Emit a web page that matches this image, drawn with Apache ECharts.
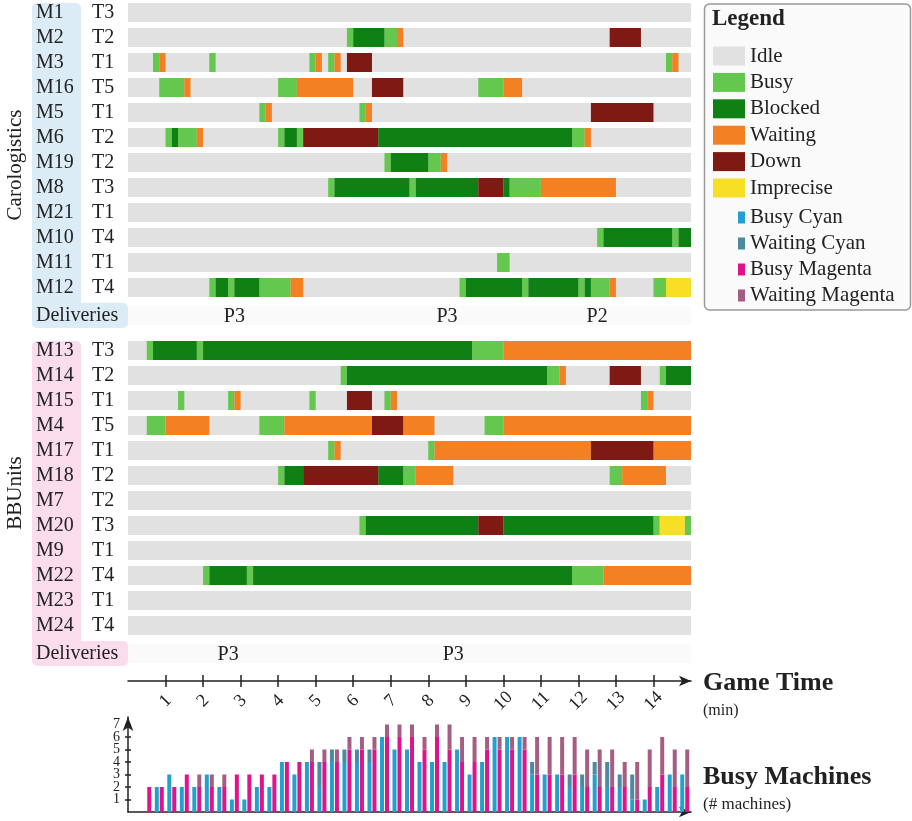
<!DOCTYPE html>
<html>
<head>
<meta charset="utf-8">
<title>Machine states</title>
<script src="https://cdn.jsdelivr.net/npm/echarts@6/dist/echarts.min.js"></script>
<style>
html, body { margin: 0; padding: 0; background: #fff; }
#chart { width: 912px; height: 821px; }
</style>
</head>
<body>
<div id="chart"></div>
<script>
// all times in seconds of game time
var GAME_END = 900;
var timeTicks = [1, 2, 3, 4, 5, 6, 7, 8, 9, 10, 11, 12, 13, 14]; // minutes

var caroMachines = ['M1', 'M2', 'M3', 'M16', 'M5', 'M6', 'M19', 'M8', 'M21', 'M10', 'M11', 'M12'];
var caroTypes = ['T3', 'T2', 'T1', 'T5', 'T1', 'T2', 'T2', 'T3', 'T1', 'T4', 'T1', 'T4'];
var caroSegments = [
    [],
    [[350, 360, 'Busy'], [360, 410, 'Blocked'], [410, 430, 'Busy'], [430, 440, 'Waiting'], [770, 820, 'Down']],
    [[40, 50, 'Busy'], [50, 60, 'Waiting'], [130, 140, 'Busy'], [290, 300, 'Busy'], [300, 310, 'Waiting'], [320, 330, 'Busy'], [330, 340, 'Waiting'], [350, 390, 'Down'], [860, 870, 'Busy'], [870, 880, 'Waiting']],
    [[50, 90, 'Busy'], [90, 100, 'Waiting'], [240, 270, 'Busy'], [270, 360, 'Waiting'], [390, 440, 'Down'], [560, 600, 'Busy'], [600, 630, 'Waiting']],
    [[210, 220, 'Busy'], [220, 230, 'Waiting'], [370, 380, 'Busy'], [380, 390, 'Waiting'], [740, 840, 'Down']],
    [[60, 70, 'Busy'], [70, 80, 'Blocked'], [80, 110, 'Busy'], [110, 120, 'Waiting'], [240, 250, 'Busy'], [250, 270, 'Blocked'], [270, 280, 'Busy'], [280, 400, 'Down'], [400, 710, 'Blocked'], [710, 730, 'Busy'], [730, 740, 'Waiting']],
    [[410, 420, 'Busy'], [420, 480, 'Blocked'], [480, 500, 'Busy'], [500, 510, 'Waiting']],
    [[320, 330, 'Busy'], [330, 450, 'Blocked'], [450, 460, 'Busy'], [460, 560, 'Blocked'], [560, 600, 'Down'], [600, 610, 'Blocked'], [610, 660, 'Busy'], [660, 780, 'Waiting']],
    [],
    [[750, 760, 'Busy'], [760, 870, 'Blocked'], [870, 880, 'Busy'], [880, 900, 'Blocked']],
    [[590, 610, 'Busy']],
    [[130, 140, 'Busy'], [140, 160, 'Blocked'], [160, 170, 'Busy'], [170, 210, 'Blocked'], [210, 260, 'Busy'], [260, 280, 'Waiting'], [530, 540, 'Busy'], [540, 630, 'Blocked'], [630, 640, 'Busy'], [640, 720, 'Blocked'], [720, 730, 'Busy'], [730, 740, 'Blocked'], [740, 770, 'Busy'], [770, 780, 'Waiting'], [840, 860, 'Busy'], [860, 900, 'Imprecise']]
];
var caroDeliveries = [[170, 'P3'], [510, 'P3'], [750, 'P2']];

var bbuMachines = ['M13', 'M14', 'M15', 'M4', 'M17', 'M18', 'M7', 'M20', 'M9', 'M22', 'M23', 'M24'];
var bbuTypes = ['T3', 'T2', 'T1', 'T5', 'T1', 'T2', 'T2', 'T3', 'T1', 'T4', 'T1', 'T4'];
var bbuSegments = [
    [[30, 40, 'Busy'], [40, 110, 'Blocked'], [110, 120, 'Busy'], [120, 550, 'Blocked'], [550, 600, 'Busy'], [600, 900, 'Waiting']],
    [[340, 350, 'Busy'], [350, 670, 'Blocked'], [670, 690, 'Busy'], [690, 700, 'Waiting'], [770, 820, 'Down'], [850, 860, 'Busy'], [860, 900, 'Blocked']],
    [[80, 90, 'Busy'], [160, 170, 'Busy'], [170, 180, 'Waiting'], [290, 300, 'Busy'], [350, 390, 'Down'], [410, 420, 'Busy'], [420, 430, 'Waiting'], [820, 830, 'Busy'], [830, 840, 'Waiting']],
    [[30, 60, 'Busy'], [60, 130, 'Waiting'], [210, 250, 'Busy'], [250, 390, 'Waiting'], [390, 440, 'Down'], [440, 490, 'Waiting'], [570, 600, 'Busy'], [600, 900, 'Waiting']],
    [[320, 330, 'Busy'], [330, 340, 'Waiting'], [480, 490, 'Busy'], [490, 740, 'Waiting'], [740, 840, 'Down'], [840, 900, 'Waiting']],
    [[240, 250, 'Busy'], [250, 280, 'Blocked'], [280, 400, 'Down'], [400, 440, 'Blocked'], [440, 460, 'Busy'], [460, 520, 'Waiting'], [770, 790, 'Busy'], [790, 860, 'Waiting']],
    [],
    [[370, 380, 'Busy'], [380, 560, 'Blocked'], [560, 600, 'Down'], [600, 840, 'Blocked'], [840, 850, 'Busy'], [850, 890, 'Imprecise'], [890, 900, 'Busy']],
    [],
    [[120, 130, 'Busy'], [130, 190, 'Blocked'], [190, 200, 'Busy'], [200, 710, 'Blocked'], [710, 760, 'Busy'], [760, 900, 'Waiting']],
    [],
    []
];
var bbuDeliveries = [[160, 'P3'], [520, 'P3']];

// busy machines per 20 s bin (bin start in seconds)
var binStarts = [0, 20, 40, 60, 80, 100, 120, 140, 160, 180, 200, 220, 240, 260, 280, 300, 320, 340, 360, 380, 400, 420, 440,
    460, 480, 500, 520, 540, 560, 580, 600, 620, 640, 660, 680, 700, 720, 740, 760, 780, 800, 820, 840, 860, 880];
var busyCyan = [0, 0, 2, 3, 2, 2, 3, 2, 1, 1, 2, 2, 4, 3, 4, 2, 4, 4, 4, 4, 6, 5, 5, 4, 4, 4, 5, 3, 4, 6, 6, 6, 3, 3, 3, 2, 2, 3, 2, 2, 1, 1, 2, 3, 3];
var waitingCyan = [0, 0, 0, 0, 0, 0, 0, 0, 0, 0, 0, 0, 0, 0, 0, 2, 1, 1, 1, 1, 0, 0, 0, 0, 0, 0, 0, 0, 0, 0, 0, 0, 1, 0, 0, 1, 1, 1, 2, 1, 2, 0, 0, 0, 0];
var busyMagenta = [0, 2, 2, 2, 3, 2, 2, 2, 3, 3, 3, 3, 4, 4, 4, 4, 4, 5, 5, 5, 6, 6, 6, 5, 6, 5, 4, 4, 5, 5, 5, 5, 3, 3, 3, 3, 2, 2, 2, 2, 1, 2, 3, 2, 2];
var waitingMagenta = [0, 0, 0, 0, 0, 1, 1, 1, 0, 0, 0, 0, 0, 0, 1, 1, 1, 1, 1, 1, 1, 1, 1, 1, 1, 2, 2, 2, 1, 1, 1, 1, 3, 3, 3, 3, 3, 3, 3, 2, 3, 3, 3, 3, 3];
var countTicks = [1, 2, 3, 4, 5, 6, 7];

var STATES = ['Idle', 'Busy', 'Blocked', 'Waiting', 'Down', 'Imprecise'];
var stateColors = {
    Idle: '#e1e1e1', Busy: '#63c84d', Blocked: '#0f8013',
    Waiting: '#f48024', Down: '#7f1914', Imprecise: '#f6df25'
};
var FONT = '"Liberation Serif", "Times New Roman", serif';
var TXT = '#222';
var BAR_H = 19;

var myChart = echarts.init(document.getElementById('chart'));

function renderSeg(params, api) {
    var a = api.coord([api.value(1), api.value(0)]);
    var b = api.coord([api.value(2), api.value(0)]);
    return {
        type: 'rect',
        shape: {x: a[0], y: a[1] - BAR_H / 2, width: b[0] - a[0], height: BAR_H},
        style: {fill: api.visual('color')}
    };
}

function ganttSeries(segments, axisIdx) {
    return STATES.map(function (st) {
        var data = [];
        segments.forEach(function (row, r) {
            if (st === 'Idle') {
                data.push([r, 0, GAME_END]);
            }
            row.forEach(function (s) {
                if (s[2] === st) data.push([r, s[0], s[1]]);
            });
        });
        return {
            type: 'custom', name: st, xAxisIndex: axisIdx, yAxisIndex: axisIdx,
            renderItem: renderSeg, encode: {x: [1, 2], y: 0},
            itemStyle: {color: stateColors[st]}, data: data
        };
    });
}

function deliverySeries(deliveries, axisIdx) {
    return [{
        type: 'custom', name: 'deliveryRow', xAxisIndex: axisIdx, yAxisIndex: axisIdx,
        renderItem: renderSeg, encode: {x: [1, 2], y: 0},
        itemStyle: {color: '#fafafa'}, data: [[0, 0, GAME_END]]
    }, {
        type: 'custom', name: 'deliveries', xAxisIndex: axisIdx, yAxisIndex: axisIdx,
        encode: {x: 0},
        renderItem: function (params, api) {
            var p = api.coord([api.value(0), 0]);
            return {
                type: 'text', x: p[0], y: p[1] + 1,
                style: {
                    text: deliveries[params.dataIndex][1], fill: TXT,
                    fontSize: 20, fontFamily: FONT, align: 'center', verticalAlign: 'middle'
                }
            };
        },
        data: deliveries.map(function (d) { return [d[0], 0]; })
    }];
}

function machineAxis(grid, machines, types) {
    return {
        gridIndex: grid, type: 'category', data: machines, inverse: true,
        axisLine: {show: false}, axisTick: {show: false},
        axisLabel: {
            align: 'left', margin: 92,
            formatter: function (v, i) { return '{m|' + v + '}{t|' + types[i] + '}'; },
            rich: {
                m: {width: 56, fontSize: 20, fontFamily: FONT, color: TXT},
                t: {fontSize: 20, fontFamily: FONT, color: TXT}
            }
        }
    };
}

function deliveryAxis(grid) {
    return {
        gridIndex: grid, type: 'category', data: ['Deliveries'],
        axisLine: {show: false}, axisTick: {show: false},
        axisLabel: {align: 'left', margin: 92, fontSize: 20, fontFamily: FONT, color: TXT}
    };
}

function hiddenTimeAxis(grid) {
    return {gridIndex: grid, type: 'value', min: 0, max: GAME_END, show: false};
}

var tickSecs = timeTicks.map(function (m) { return m * 60; });
var axisLineStyle = {color: TXT, width: 1.5};
var countLabel = {margin: 8, fontSize: 14, fontFamily: FONT, color: TXT, showMinLabel: true, showMaxLabel: true};
// labels are closer together than their height, so odd and even ones go on two stacked axes
var oddCounts = countTicks.filter(function (v) { return v % 2 === 1; });
var evenCounts = countTicks.filter(function (v) { return v % 2 === 0; });

function countBar(name, stack, values, color) {
    return {
        type: 'bar', name: name, xAxisIndex: 6, yAxisIndex: 5, stack: stack,
        barWidth: 4, barGap: '25%', itemStyle: {color: color}, data: values
    };
}

var series = []
    .concat(ganttSeries(caroSegments, 0))
    .concat(deliverySeries(caroDeliveries, 1))
    .concat(ganttSeries(bbuSegments, 2))
    .concat(deliverySeries(bbuDeliveries, 3))
    .concat([
        countBar('Busy Cyan', 'cyan', busyCyan, '#22a1cf'),
        countBar('Waiting Cyan', 'cyan', waitingCyan, '#4b8aa1'),
        countBar('Busy Magenta', 'magenta', busyMagenta, '#e0138b'),
        countBar('Waiting Magenta', 'magenta', waitingMagenta, '#a65d82')
    ]);

var option = {
    animation: false,
    textStyle: {fontFamily: FONT},
    grid: [
        {left: 128, width: 563, top: 0, height: 300},
        {left: 128, width: 563, top: 303, height: 25},
        {left: 128, width: 563, top: 338, height: 300},
        {left: 128, width: 563, top: 641, height: 25},
        {left: 128, width: 563, top: 670, height: 17},
        {left: 128, width: 563, top: 717, height: 95}
    ],
    xAxis: [
        hiddenTimeAxis(0), hiddenTimeAxis(1), hiddenTimeAxis(2), hiddenTimeAxis(3),
        {
            gridIndex: 4, type: 'value', min: 0, max: GAME_END, position: 'bottom',
            axisLine: {show: false, onZero: false}, splitLine: {show: false},
            axisTick: {show: true, inside: true, length: 12, customValues: tickSecs, lineStyle: axisLineStyle},
            axisLabel: {
                customValues: tickSecs, formatter: function (v) { return v / 60; },
                rotate: 45, align: 'center', verticalAlign: 'middle', margin: 14,
                fontSize: 18, fontFamily: FONT, color: TXT
            }
        },
        {
            gridIndex: 4, type: 'value', min: 0, max: GAME_END, position: 'bottom', offset: -6,
            axisLine: {show: true, onZero: false, symbol: ['none', 'arrow'], symbolSize: [8, 12], lineStyle: axisLineStyle},
            axisTick: {show: false}, axisLabel: {show: false}, splitLine: {show: false}
        },
        {
            // one category per 20 s bin, spanning the same 0..15 min as the time axis
            gridIndex: 5, type: 'category', data: binStarts, boundaryGap: true,
            axisLine: {show: true, onZero: false, symbol: ['none', 'arrow'], symbolSize: [8, 12], lineStyle: axisLineStyle},
            axisTick: {show: false}, axisLabel: {show: false}, splitLine: {show: false}
        }
    ],
    yAxis: [
        machineAxis(0, caroMachines, caroTypes),
        deliveryAxis(1),
        machineAxis(2, bbuMachines, bbuTypes),
        deliveryAxis(3),
        {gridIndex: 4, type: 'value', min: 0, max: 1, show: false},
        {
            gridIndex: 5, type: 'value', min: 0, max: 7.6, position: 'left',
            axisLine: {show: true, symbol: ['none', 'arrow'], symbolSize: [8, 14], lineStyle: axisLineStyle},
            axisTick: {show: true, length: 3, customValues: countTicks, lineStyle: axisLineStyle},
            axisLabel: Object.assign({customValues: oddCounts}, countLabel),
            splitLine: {show: false}
        },
        {
            gridIndex: 5, type: 'value', min: 0, max: 7.6, position: 'left',
            axisLine: {show: false},
            axisTick: {show: true, inside: true, length: 3, customValues: countTicks, lineStyle: axisLineStyle},
            axisLabel: Object.assign({customValues: evenCounts}, countLabel),
            splitLine: {show: false}
        }
    ],
    legend: [{
        data: STATES, orient: 'vertical', left: 713, top: 45.5, icon: 'rect', padding: 0,
        itemWidth: 32, itemHeight: 19, itemGap: 5.4, selectedMode: false,
        textStyle: {fontSize: 21, fontFamily: FONT, color: TXT, lineHeight: 20}
    }, {
        data: ['Busy Cyan', 'Waiting Cyan', 'Busy Magenta', 'Waiting Magenta'],
        orient: 'vertical', left: 738, top: 207, icon: 'rect', padding: 0,
        itemWidth: 7, itemHeight: 12, itemGap: 5, selectedMode: false,
        textStyle: {fontSize: 21, fontFamily: FONT, color: TXT, lineHeight: 20}
    }],
    graphic: [
        // team label columns
        {type: 'rect', z: -1, shape: {x: 32, y: 3, width: 49, height: 310, r: [5, 5, 0, 0]}, style: {fill: '#dcecf6'}},
        {type: 'rect', z: -1, shape: {x: 32, y: 303, width: 96, height: 25, r: [0, 5, 5, 5]}, style: {fill: '#dcecf6'}},
        {type: 'rect', z: -1, shape: {x: 32, y: 341, width: 49, height: 310, r: [5, 5, 0, 0]}, style: {fill: '#fadcec'}},
        {type: 'rect', z: -1, shape: {x: 32, y: 641, width: 96, height: 25, r: [0, 5, 5, 5]}, style: {fill: '#fadcec'}},
        {type: 'text', x: 15, y: 165, rotation: Math.PI / 2,
            style: {text: 'Carologistics', fill: TXT, fontSize: 21, fontFamily: FONT, align: 'center', verticalAlign: 'middle'}},
        {type: 'text', x: 15, y: 493, rotation: Math.PI / 2,
            style: {text: 'BBUnits', fill: TXT, fontSize: 21, fontFamily: FONT, align: 'center', verticalAlign: 'middle'}},
        // legend frame
        {type: 'rect', z: -1, shape: {x: 704.5, y: 4, width: 206, height: 306, r: 5}, style: {fill: '#fafafa', stroke: '#999', lineWidth: 1.5}},
        {type: 'text', x: 712, y: 19,
            style: {text: 'Legend', fill: TXT, fontSize: 23, fontWeight: 'bold', fontFamily: FONT, verticalAlign: 'middle'}},
        // axis titles
        {type: 'text', x: 703, y: 683,
            style: {text: 'Game Time', fill: TXT, fontSize: 26, fontWeight: 'bold', fontFamily: FONT, verticalAlign: 'middle'}},
        {type: 'text', x: 703, y: 711,
            style: {text: '(min)', fill: TXT, fontSize: 16, fontFamily: FONT, verticalAlign: 'middle'}},
        {type: 'text', x: 703, y: 777,
            style: {text: 'Busy Machines', fill: TXT, fontSize: 26, fontWeight: 'bold', fontFamily: FONT, verticalAlign: 'middle'}},
        {type: 'text', x: 703, y: 805,
            style: {text: '(# machines)', fill: TXT, fontSize: 17, fontFamily: FONT, verticalAlign: 'middle'}}
    ],
    series: series
};

myChart.setOption(option, true);
</script>
</body>
</html>
